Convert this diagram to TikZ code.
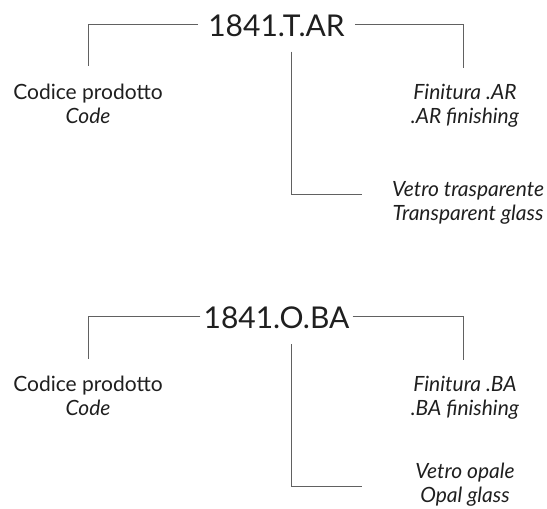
\documentclass[tikz,border=0pt]{standalone}
\usepackage{fontspec}
\setmainfont{Lato}
\usepackage{tikz}
\usetikzlibrary{positioning}

\begin{document}
\begin{tikzpicture}[x=1pt, y=-1pt,
          code/.style={font=\fontsize{30}{36}\selectfont, text=black!88, anchor=base, inner ysep=0pt, text height=24pt, text depth=0pt},
          label/.style={font=\fontsize{21}{24}\selectfont, text=black!88, align=center, anchor=base, inner sep=0pt},
          tick/.style={draw=black!62, line width=0.9pt},
        ]
        \useasboundingbox (0,0) rectangle (547,509);
        % first code
        \node[code, inner xsep=10pt] (t1) at (276.5,36) {1841.T.AR};
        \coordinate (l1) at (88,66);
        \coordinate (r1) at (463,68);
        \coordinate (m1) at (291,51.7);
        \coordinate (e1) at (362,194);
        \draw[tick] (t1.west) -| (l1);
        \draw[tick] (t1.east) -| (r1);
        \draw[tick] (m1) |- (e1);
        \node[label] (c1) at (88,123) {Codice prodotto\\\textit{Code}};
        \node[label] (f1) at (465,123) {\textit{Finitura .AR}\\\textit{.AR finishing}};
        \node[label] (v1) at (468,220) {\textit{Vetro trasparente}\\\textit{Transparent glass}};
        % second code
        \node[code, inner xsep=3pt] (t2) at (276.5,328.5) {1841.O.BA};
        \coordinate (l2) at (88,359);
        \coordinate (r2) at (463,360);
        \coordinate (m2) at (291,344);
        \coordinate (e2) at (362,486.7);
        \draw[tick] (t2.west) -| (l2);
        \draw[tick] (t2.east) -| (r2);
        \draw[tick] (m2) |- (e2);
        \node[label] (c2) at (88,415.5) {Codice prodotto\\\textit{Code}};
        \node[label] (f2) at (465,415.5) {\textit{Finitura .BA}\\\textit{.BA finishing}};
        \node[label] (v2) at (465,502) {\textit{Vetro opale}\\\textit{Opal glass}};
      \end{tikzpicture}
\end{document}
